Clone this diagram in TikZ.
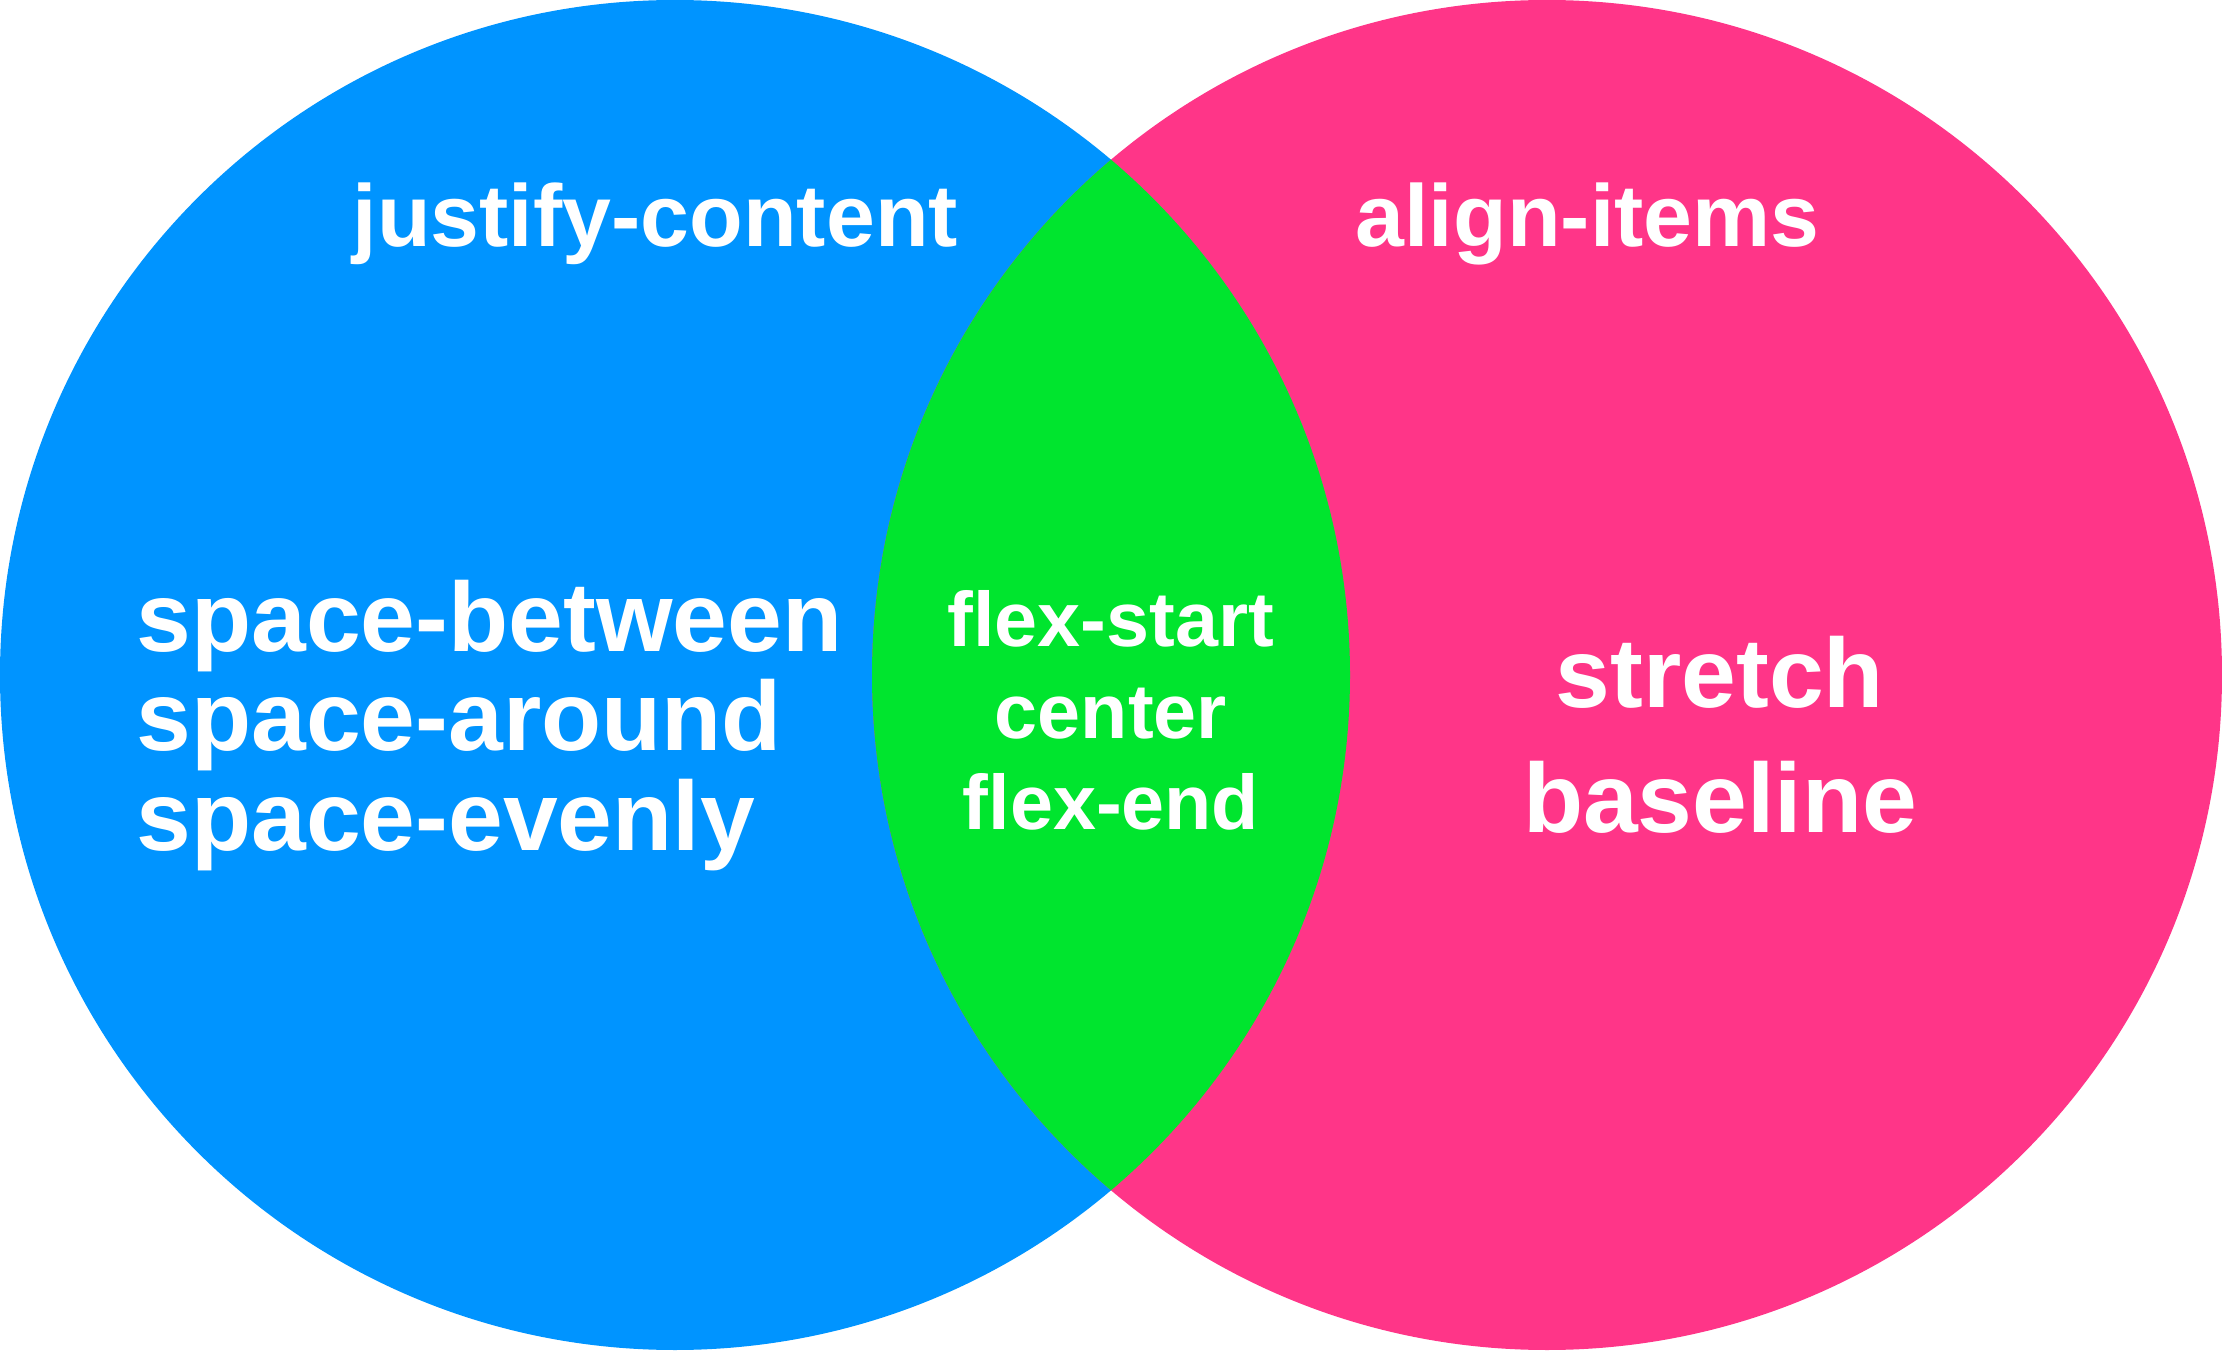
\documentclass[tikz,border=0pt]{standalone}
\usepackage{fontspec}
\setmainfont{Liberation Sans}
\usetikzlibrary{positioning}
\definecolor{flexblue}{HTML}{0094FF}
\definecolor{flexpink}{HTML}{FF3588}
\definecolor{flexgreen}{HTML}{00E52E}
\tikzset{
  bigtxt/.style={text=white, inner sep=0pt, font=\fontsize{28}{32}\selectfont\bfseries},
  headtxt/.style={text=white, inner sep=0pt, font=\fontsize{25}{28}\selectfont\bfseries},
  midtxt/.style={text=white, inner sep=0pt, font=\fontsize{22}{26}\selectfont\bfseries}
}
\begin{document}
\begin{tikzpicture}
  \useasboundingbox (0,0) rectangle (22.22,13.5);
  % Circles
  \fill[flexblue] (6.75,6.75) circle (6.75);
  \fill[flexpink] (15.47,6.75) circle (6.75);
  \begin{scope}
    \clip (6.75,6.75) circle (6.75);
    \fill[flexgreen] (15.47,6.75) circle (6.75);
  \end{scope}
  % Headings
  \node[headtxt, anchor=base west] (justify) at (3.52,11.03) {justify-content};
  \node[headtxt, anchor=base west] (alignit) at (13.55,11.03) {align-items};
  % justify-content values
  \node[bigtxt, anchor=base west] (between) at (1.36,6.99) {space-between};
  \node[bigtxt, anchor=base west] (around) at (1.36,5.99) {space-around};
  \node[bigtxt, anchor=base west] (evenly) at (1.36,4.99) {space-evenly};
  % shared values
  \node[midtxt, anchor=base] (fstart) at (11.11,7.03) {flex-start};
  \node[midtxt, anchor=base] (fcenter) at (11.11,6.12) {center};
  \node[midtxt, anchor=base] (fend) at (11.11,5.21) {flex-end};
  % align-items values
  \node[bigtxt, anchor=base] (stretch) at (17.20,6.43) {stretch};
  \node[bigtxt, anchor=base] (baseline) at (17.20,5.18) {baseline};
\end{tikzpicture}
\end{document}
